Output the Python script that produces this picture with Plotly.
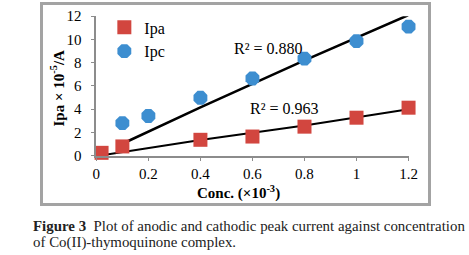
import plotly.graph_objects as go

# ---- data ----
ipa_x = [0.02, 0.1, 0.4, 0.6, 0.8, 1.0, 1.2]
ipa_y = [0.25, 0.8, 1.37, 1.65, 2.5, 3.27, 4.13]
ipc_x = [0.1, 0.2, 0.4, 0.6, 0.8, 1.0, 1.2]
ipc_y = [2.8, 3.42, 4.98, 6.64, 8.35, 9.85, 11.1]

ipa_trend_x = [0.01, 0.4, 0.8, 1.2]
ipa_trend_y = [0.0, 1.35, 2.6, 4.0]
ipc_trend_x = [0.1, 0.4, 0.8, 1.2]
ipc_trend_y = [1.03, 4.15, 8.2, 12.1]

r2_labels = ["R² = 0.880", "R² = 0.963"]
r2_pos_x = [0.663, 0.723]
r2_pos_y = [9.25, 4.1]

x_ticks = [0, 0.2, 0.4, 0.6, 0.8, 1.0, 1.2]
x_tick_text = ["0", "0.2", "0.4", "0.6", "0.8", "1", "1.2"]
y_ticks = [0, 2, 4, 6, 8, 10, 12]

# ---- layout geometry (pixels) ----
W, H = 469, 255
# outer region = chart frame (frame drawn by a mirrored helper axis pair)
FL, FR, FT, FB = 42.5, 428.5, 4.5, 203.5
L, R, T, B = FL, W - FR, FT, H - FB
PW, PH = FR - FL, FB - FT
# inner data plot area (pixels)
DX0, DX1, DY0, DY1 = 96, 409, 15.7, 156


def px(x):
    return (x - FL) / PW


def py(y):
    return (FB - y) / PH


SERIF = "Liberation Serif, Times New Roman, serif"
RED = "#D2463F"
BLUE = "#3D8ED0"
FRAME = "#A3A3A3"

fig = go.Figure()

# invisible trace so the frame axes are drawn
fig.add_trace(go.Scatter(x=[0.5], y=[0.5], xaxis="x2", yaxis="y2",
                         mode="markers", marker=dict(opacity=0),
                         showlegend=False, hoverinfo="skip"))

fig.add_trace(go.Scatter(x=ipa_trend_x, y=ipa_trend_y, mode="lines",
                         line=dict(color="black", width=2), showlegend=False,
                         hoverinfo="skip"))
fig.add_trace(go.Scatter(x=ipc_trend_x, y=ipc_trend_y, mode="lines",
                         line=dict(color="black", width=2.5), showlegend=False,
                         hoverinfo="skip"))

fig.add_trace(go.Scatter(x=ipa_x, y=ipa_y, mode="markers", name="Ipa",
                         marker=dict(symbol="square", size=14, color=RED,
                                     line=dict(width=0)),
                         cliponaxis=False))
fig.add_trace(go.Scatter(x=ipc_x, y=ipc_y, mode="markers", name="Ipc",
                         marker=dict(symbol="octagon", size=15, color=BLUE,
                                     line=dict(width=0)),
                         cliponaxis=False))

for t, xx, yy in zip(r2_labels, r2_pos_x, r2_pos_y):
    fig.add_annotation(x=xx, y=yy, xref="x", yref="y", text=t,
                       showarrow=False, xanchor="center", yanchor="middle",
                       font=dict(family=SERIF, size=16, color="black"))

annos = [
    dict(x=px(238.5), y=py(193), xanchor="center",
         text="<b>Conc. (×10<sup>-3</sup>)</b>",
         font=dict(family=SERIF, size=15, color="black")),
    dict(x=px(57), y=py(88), xanchor="center",
         text="<b>Ipa × 10<sup>-5</sup>/A</b>", textangle=-90,
         font=dict(family=SERIF, size=15, color="black")),
    dict(x=px(30), y=py(227), xanchor="left",
         text="<b>Figure 3</b>  Plot of anodic and cathodic peak current against concentration",
         font=dict(family=SERIF, size=14.9, color="#222222")),
    dict(x=px(30), y=py(243), xanchor="left",
         text="of Co(II)-thymoquinone complex.",
         font=dict(family=SERIF, size=14.9, color="#222222")),
]
for a in annos:
    fig.add_annotation(xref="paper", yref="paper", showarrow=False,
                       yanchor="middle", **a)

axis_common = dict(showline=True, linecolor="#8C8C8C", linewidth=1.5,
                   ticks="outside", ticklen=4, tickcolor="#8C8C8C",
                   showgrid=False, zeroline=False, automargin=False,
                   tickfont=dict(family=SERIF, size=15, color="black"))

frame_axis = dict(domain=[0, 1], range=[0, 1], showline=True, mirror=True,
                  linecolor=FRAME, linewidth=3, ticks="", showticklabels=False,
                  showgrid=False, zeroline=False, automargin=False,
                  fixedrange=True)

fig.update_layout(
    width=W, height=H,
    margin=dict(l=L, r=R, t=T, b=B, autoexpand=False, pad=0),
    paper_bgcolor="white", plot_bgcolor="rgba(0,0,0,0)",
    xaxis=dict(range=[0, 1.2], tickvals=x_ticks, ticktext=x_tick_text,
               domain=[px(DX0), px(DX1)], anchor="y", **axis_common),
    yaxis=dict(range=[0, 12], tickvals=y_ticks, ticklabelstandoff=6,
               domain=[py(DY1), py(DY0)], anchor="x", **axis_common),
    xaxis2=dict(anchor="y2", **frame_axis),
    yaxis2=dict(anchor="x2", **frame_axis),
    legend=dict(x=px(104), y=py(10), xanchor="left", yanchor="top",
                bgcolor="rgba(0,0,0,0)", tracegroupgap=0, itemwidth=30,
                font=dict(family=SERIF, size=16, color="black")),
    showlegend=True,
)

fig.write_html("out.html", config={"displayModeBar": False},
               post_script="document.body.style.margin='0';"
                           "document.body.style.overflow='hidden';")
